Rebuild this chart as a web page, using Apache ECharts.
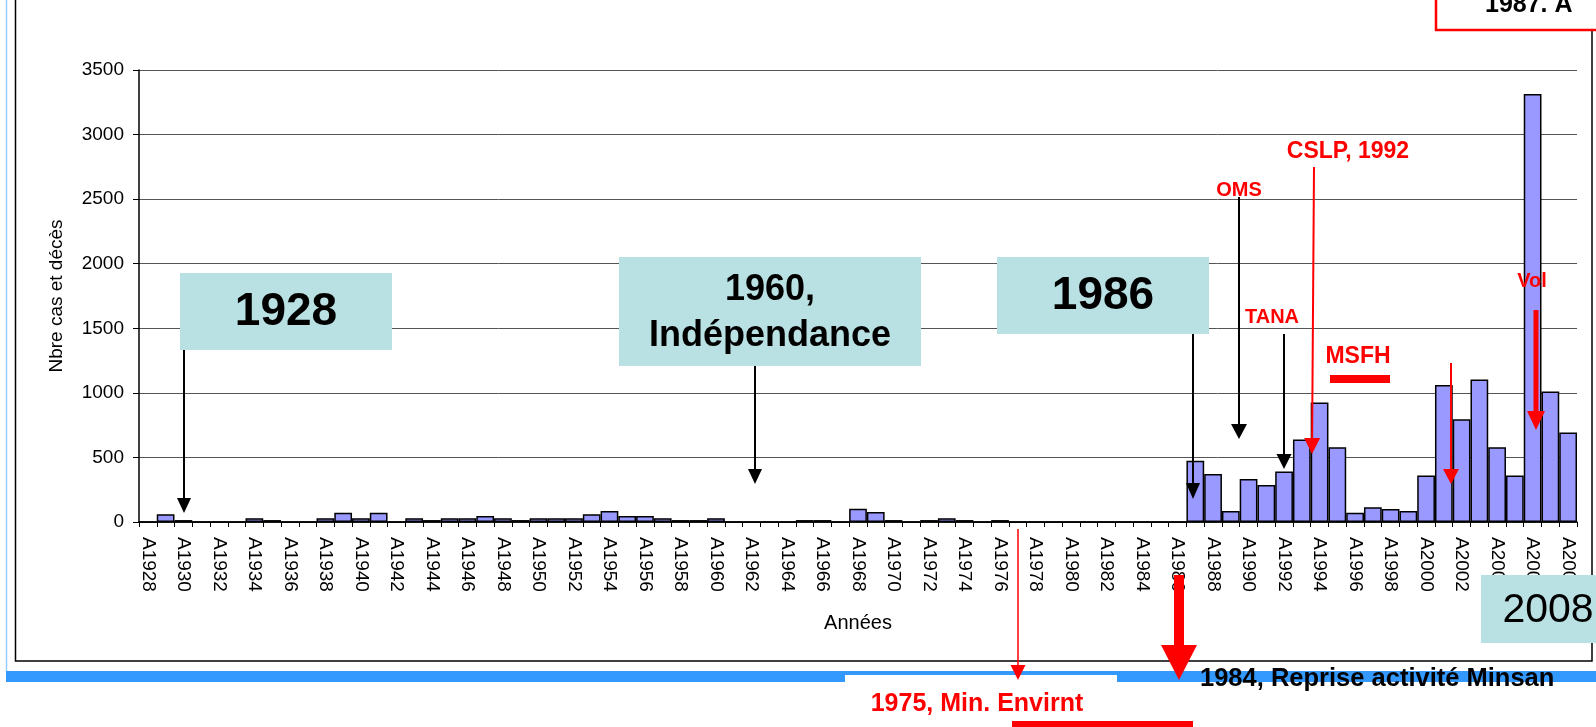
<!DOCTYPE html>
<html>
<head>
<meta charset="utf-8">
<title>Nbre cas et décès</title>
<script src="https://cdn.jsdelivr.net/npm/echarts@6/dist/echarts.min.js"></script>
<style>
  html, body { margin: 0; padding: 0; background: #fff; }
  #chart { width: 1596px; height: 727px; }
</style>
</head>
<body>
<div id="chart"></div>
<script>
// années 1928 -> 2008
let firstYear = 1928;
let lastYear = 2008;
let years = [];
for (let y = firstYear; y <= lastYear; y++) {
    years.push('A' + y);
}
// nombre de cas et décès par année
let cases = [
    0, 60, 15, 0, 0, 0, 30, 15, 0, 0,          // 1928-1937
    30, 72, 30, 72, 0, 30, 15, 30, 30, 46,     // 1938-1947
    30, 15, 30, 30, 30, 60, 85, 46, 46, 30,    // 1948-1957
    15, 15, 30, 0, 0, 0, 0, 15, 15, 0,         // 1958-1967
    102, 77, 15, 0, 15, 30, 15, 0, 15,         // 1968-1976
    0, 0, 0, 0, 0, 0, 0, 0, 0, 0,              // 1977-1986
    475, 372, 86, 332, 286, 392, 639, 925, 578, 72,   // 1987-1996
    115, 100, 86, 361, 1060, 796, 1103, 578, 361, 3315, // 1997-2006
    1011, 693                                  // 2007-2008
];
let yTicks = [0, 500, 1000, 1500, 2000, 2500, 3000, 3500];

const FONT = 'Liberation Sans, Arial, sans-serif';
const TEAL = '#b9e0e3';
const RED = '#ff0000';

function arrow(x1, y1, x2, y2, color, lw, hw, hl) {
    let dx = x2 - x1, dy = y2 - y1;
    let len = Math.sqrt(dx * dx + dy * dy);
    let ux = dx / len, uy = dy / len;
    let bx = x2 - ux * hl, by = y2 - uy * hl;
    let px = -uy * hw / 2, py = ux * hw / 2;
    return [
        {type: 'line', z: 100, silent: true,
            shape: {x1: x1, y1: y1, x2: bx, y2: by},
            style: {stroke: color, lineWidth: lw}},
        {type: 'polygon', z: 100, silent: true,
            shape: {points: [[x2, y2], [bx + px, by + py], [bx - px, by - py]]},
            style: {fill: color}}
    ];
}
function box(x, y, w, h, fill, z) {
    return {type: 'rect', z: z || 90, silent: true,
        shape: {x: x, y: y, width: w, height: h}, style: {fill: fill}};
}
function label(text, x, y, size, color, weight, align, valign) {
    return {type: 'text', z: 110, silent: true,
        style: {text: text, x: x, y: y, fill: color,
            font: (weight || 'bold') + ' ' + size + 'px ' + FONT,
            align: align || 'center', verticalAlign: valign || 'middle'}};
}

let elements = [];
// cadre et barre bleue
elements.push({type: 'line', z: 1, silent: true, shape: {x1: 6.5, y1: 0, x2: 6.5, y2: 671},
    style: {stroke: '#99ccff', lineWidth: 1.5}});
elements.push({type: 'rect', z: 1, silent: true, shape: {x: 15.5, y: -10, width: 1576.5, height: 671},
    style: {fill: 'none', stroke: '#000', lineWidth: 1.5}});
elements.push(box(6, 671, 1590, 11, '#3399ff', 2));
elements.push(box(845, 675, 272, 16, '#fff', 3));
// boîte rouge en haut (coupée)
elements.push({type: 'rect', z: 5, silent: true, shape: {x: 1436, y: -10, width: 170, height: 40},
    style: {fill: '#fff', stroke: RED, lineWidth: 2.5}});
elements.push(label('1987. A', 1485, 18, 25, '#000', 'bold', 'left', 'bottom'));
// boîtes turquoise
elements.push(box(180, 273, 212, 77, TEAL));
elements.push(label('1928', 286, 312, 46, '#000'));
elements.push(box(619, 257, 302, 109, TEAL));
elements.push(label('1960,', 770, 290, 36, '#000'));
elements.push(label('Indépendance', 770, 336, 36, '#000'));
elements.push(box(997, 257, 212, 77, TEAL));
elements.push(label('1986', 1103, 296, 46, '#000'));
elements.push(box(1481, 575, 120, 68, TEAL));
elements.push(label('2008', 1548, 611, 41, '#000', 'normal'));
// flèches noires
elements = elements.concat(arrow(184, 350, 184, 513, '#000', 2, 14, 15));
elements = elements.concat(arrow(755, 366, 755, 484, '#000', 2, 14, 15));
elements = elements.concat(arrow(1193, 334, 1193, 499, '#000', 2, 14, 16));
elements = elements.concat(arrow(1239, 197, 1239, 439, '#000', 2, 16, 15));
elements = elements.concat(arrow(1284, 334, 1284, 469, '#000', 2, 15, 15));
// flèches rouges
elements = elements.concat(arrow(1314, 167, 1312, 454, RED, 2, 16, 16));
elements = elements.concat(arrow(1451, 363, 1451, 484, RED, 2, 16, 15));
elements = elements.concat(arrow(1536, 310, 1536, 430, RED, 5, 18, 19));
elements = elements.concat(arrow(1018, 529, 1018, 680, RED, 1.5, 15, 15));
elements = elements.concat(arrow(1179, 575, 1179, 680, RED, 10, 36, 35));
// textes rouges
elements.push(label('OMS', 1239, 190, 20, RED));
elements.push(label('CSLP, 1992', 1348, 152, 23, RED));
elements.push(label('TANA', 1272, 317, 20, RED));
elements.push(label('MSFH', 1358, 357, 23, RED));
elements.push(box(1330, 375, 60, 8, RED, 100));
elements.push(label('Vol', 1532, 281, 20, RED));
elements.push(label('1975, Min. Envirnt', 977, 704, 25, RED));
elements.push(box(1012, 721, 181, 10, RED, 100));
elements.push(label('1984, Reprise activité Minsan', 1200, 679, 25.5, '#000', 'bold', 'left'));

let myChart = echarts.init(document.getElementById('chart'));
myChart.setOption({
    animation: false,
    backgroundColor: '#fff',
    grid: {left: 139, right: 19, top: 70, bottom: 205, containLabel: false},
    xAxis: {
        type: 'category',
        data: years,
        boundaryGap: true,
        name: 'Années',
        nameLocation: 'middle',
        nameGap: 91,
        nameTextStyle: {color: '#000', fontSize: 20, fontFamily: FONT},
        axisLine: {lineStyle: {color: '#000', width: 1.5}},
        axisTick: {show: true, interval: 0, length: 5, lineStyle: {color: '#000'}},
        axisLabel: {interval: 1, rotate: -90, margin: 15, color: '#000', fontSize: 19, fontFamily: FONT},
        splitLine: {show: false}
    },
    yAxis: {
        type: 'value',
        min: yTicks[0],
        max: yTicks[yTicks.length - 1],
        interval: 500,
        name: 'Nbre cas et décès',
        nameLocation: 'middle',
        nameGap: 73,
        nameTextStyle: {color: '#000', fontSize: 19, fontFamily: FONT},
        axisLine: {show: true, lineStyle: {color: '#000', width: 1.5}},
        axisTick: {show: true, length: 6, lineStyle: {color: '#000'}},
        axisLabel: {margin: 15, color: '#000', fontSize: 19, fontFamily: FONT,
            formatter: function (v) { return String(v); }},
        splitLine: {lineStyle: {color: '#555', width: 1}}
    },
    series: [{
        type: 'bar',
        data: cases,
        barCategoryGap: '0%',
        itemStyle: {color: '#9999ff', borderColor: '#000', borderWidth: 1.5},
        z: 2
    }],
    graphic: {elements: elements}
});
</script>
</body>
</html>
